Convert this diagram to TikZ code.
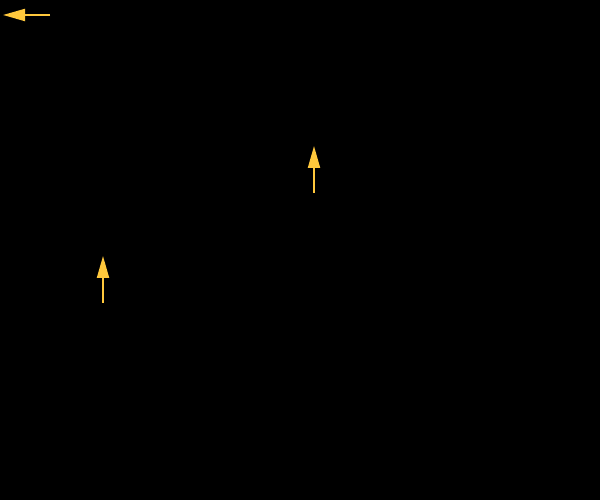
\documentclass[tikz,border=0pt]{standalone}
\usetikzlibrary{arrows.meta}
\definecolor{arrowyellow}{RGB}{255,200,60}

\begin{document}
\begin{tikzpicture}[x=0.1mm,y=-0.1mm,
    flow/.style={draw=arrowyellow,line width=0.2mm,
        -{Triangle[length=2.2mm,width=1.2mm]}}]
\fill[black] (0,0) rectangle (600,500);
\useasboundingbox (0,0) rectangle (600,500);
\path
    (50,15) coordinate (topstart)
    (3,15) coordinate (topend)
    (314,193) coordinate (midstart)
    (314,146) coordinate (midend)
    (103,303) coordinate (lowstart)
    (103,256) coordinate (lowend);
\draw[flow] (topstart) -- (topend);
\draw[flow] (midstart) -- (midend);
\draw[flow] (lowstart) -- (lowend);
\end{tikzpicture}
\end{document}
